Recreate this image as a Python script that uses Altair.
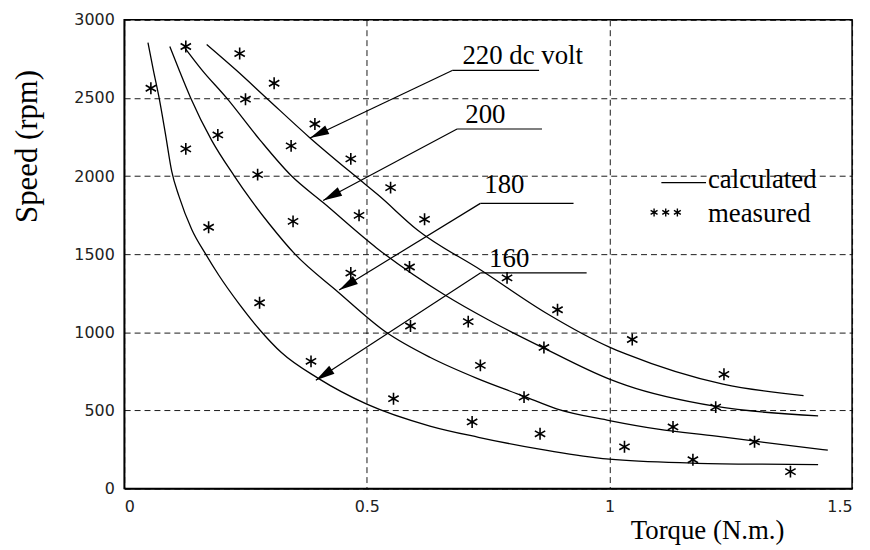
import math
import altair as alt
import pandas as pd

# ---- calculated curves (torque N.m., speed rpm) ----
volts = ["160", "180", "200", "220"]
t160 = [0.049, 0.060, 0.072, 0.085, 0.098, 0.113, 0.139, 0.168, 0.195, 0.236, 0.281, 0.324, 0.40,
        0.50, 0.63, 0.73, 0.85, 0.97, 1.0, 1.17, 1.3, 1.43]
n160 = [2854, 2680, 2500, 2270, 2030, 1870, 1660, 1500, 1365, 1185, 1010, 870, 705,
        540, 400, 328, 255, 198, 188, 163, 156, 153]
t180 = [0.094, 0.113, 0.137, 0.18, 0.227, 0.262, 0.30, 0.352, 0.44, 0.54, 0.63, 0.727, 0.824, 0.891,
        1.0, 1.1, 1.22, 1.3, 1.45]
n180 = [2829, 2680, 2500, 2230, 2000, 1844, 1690, 1500, 1260, 1000, 840, 705, 590, 510,
        435, 380, 335, 303, 245]
t200 = [0.123, 0.16, 0.211, 0.28, 0.345, 0.41, 0.52, 0.66, 0.75, 0.864, 1.0, 1.035, 1.22, 1.43]
n200 = [2829, 2680, 2500, 2230, 2000, 1830, 1540, 1240, 1080, 900, 700, 660, 525, 465]
t220 = [0.170, 0.23, 0.293, 0.383, 0.48, 0.523, 0.605, 0.734, 0.871, 1.0, 1.035, 1.234, 1.40]
n220 = [2842, 2680, 2500, 2244, 1990, 1880, 1653, 1400, 1120, 905, 860, 668, 595]

# ---- measured points ----
meas_t = [0.055, 0.127, 0.127, 0.174, 0.193, 0.238, 0.25, 0.275, 0.279, 0.309, 0.344, 0.348, 0.385,
          0.393, 0.467, 0.467, 0.484, 0.549, 0.555, 0.588, 0.59, 0.619, 0.709, 0.717, 0.734, 0.789,
          0.824, 0.857, 0.865, 0.893, 1.031, 1.047, 1.131, 1.172, 1.219, 1.236, 1.299, 1.373]
meas_n = [2562, 2829, 2174, 1672, 2263, 2784, 2492, 2009, 1189, 2594, 2193, 1710, 814,
          2333, 2110, 1379, 1748, 1926, 575, 1418, 1040, 1723, 1068, 426, 788, 1348,
          585, 350, 903, 1144, 267, 954, 394, 184, 521, 731, 299, 108]

# ---- annotations (data coordinates) ----
ann_text = ["220 dc volt", "200", "180", "160"]
ann_tx = [0.697, 0.703, 0.742, 0.752]
ann_ty = [2715, 2340, 1894, 1418]
arrow_sx = [0.676, 0.686, 0.734, 0.734]
arrow_sy = [2676, 2301, 1825, 1380]
arrow_ex = [0.383, 0.410, 0.443, 0.395]
arrow_ey = [2244, 1844, 1271, 693]
leader_end = [0.855, 0.861, 0.926, 0.953]

legend_labels = ["calculated", "measured"]

W, H = 733, 472
XMAX, YMAX = 1.5, 3000

serif = "Liberation Serif"
sans = "DejaVu Sans"

xscale = alt.Scale(domain=[0, XMAX], nice=False, zero=False)
yscale = alt.Scale(domain=[0, YMAX], nice=False, zero=False)

xaxis = alt.Axis(values=[0, 0.5, 1, 1.5], labelExpr="'' + datum.value", title="Torque (N.m.)",
                 titleX=587, titleY=50, titleAlign="center", titleBaseline="alphabetic",
                 titleFontSize=27, titleFontWeight="normal")
yaxis = alt.Axis(values=[0, 500, 1000, 1500, 2000, 2500, 3000], labelExpr="'' + datum.value",
                 title="Speed (rpm)", titleX=-97, titleY=127, titleAngle=270,
                 titleAlign="center", titleBaseline="middle",
                 titleFontSize=31, titleFontWeight="normal")


def X(f="x"):
    return alt.X(f, type="quantitative", scale=xscale, axis=xaxis)


def Y(f="y"):
    return alt.Y(f, type="quantitative", scale=yscale, axis=yaxis)


curve_rows = []
for v, ts, ns in zip(volts, [t160, t180, t200, t220], [n160, n180, n200, n220]):
    for i, (t, n) in enumerate(zip(ts, ns)):
        curve_rows.append({"v": v, "x": t, "y": n, "o": i})
curves_df = pd.DataFrame(curve_rows)

meas_df = pd.DataFrame({"x": meas_t, "y": meas_n})

arrow_df = pd.DataFrame({"x": arrow_sx, "y": arrow_sy, "x2": arrow_ex, "y2": arrow_ey})
leader_df = pd.DataFrame({"x": arrow_sx, "y": arrow_sy, "x2": leader_end, "y2": arrow_sy})

angs = []
for sx, sy, ex, ey in zip(arrow_sx, arrow_sy, arrow_ex, arrow_ey):
    dxp = (ex - sx) * W / XMAX
    dyp = -(ey - sy) * H / YMAX
    angs.append(math.degrees(math.atan2(dyp, dxp)) % 360)
head_df = pd.DataFrame({"x": arrow_ex, "y": arrow_ey, "ang": angs})

ann_df = pd.DataFrame({"x": ann_tx, "y": ann_ty, "t": ann_text})

# legend (placed in data space, upper right)
leg_line_df = pd.DataFrame({"x": [1.107], "y": [1958], "x2": [1.199], "y2": [1958]})
leg_star_df = pd.DataFrame({"x": [1.092, 1.116, 1.140], "y": [1767, 1767, 1767]})
leg_text_df = pd.DataFrame({"x": [1.203, 1.203], "y": [1926, 1704], "t": legend_labels})

star_path = "M0,-1L0,1M-0.87,-0.5L0.87,0.5M-0.87,0.5L0.87,-0.5"
head_path = "M0,0L-2.4,-0.6L-2.4,0.6Z"

curves = alt.Chart(curves_df).mark_line(color="black", strokeWidth=1.3, interpolate="monotone").encode(
    x=X(), y=Y(), detail="v:N", order="o:Q")

measured = alt.Chart(meas_df).mark_point(shape=star_path, size=144, filled=False,
                                         color="black", strokeWidth=1.6, opacity=1).encode(x=X(), y=Y())

arrows = alt.Chart(arrow_df).mark_rule(color="black", strokeWidth=1.2).encode(
    x=X(), y=Y(), x2="x2", y2="y2")
leaders = alt.Chart(leader_df).mark_rule(color="black", strokeWidth=1.2).encode(
    x=X(), y=Y(), x2="x2", y2="y2")
heads = alt.Chart(head_df).mark_point(shape=head_path, size=256, filled=True, color="black",
                                      opacity=1).encode(
    x=X(), y=Y(), angle=alt.Angle("ang:Q", scale=None))

labels = alt.Chart(ann_df).mark_text(font=serif, fontSize=27, align="left", baseline="alphabetic",
                                     color="black").encode(x=X(), y=Y(), text="t:N")

leg_line = alt.Chart(leg_line_df).mark_rule(color="black", strokeWidth=1.2).encode(
    x=X(), y=Y(), x2="x2", y2="y2")
leg_star = alt.Chart(leg_star_df).mark_point(shape=star_path, size=64, filled=False, color="black",
                                             strokeWidth=1.4, opacity=1).encode(x=X(), y=Y())
leg_text = alt.Chart(leg_text_df).mark_text(font=serif, fontSize=27, align="left",
                                            baseline="alphabetic", color="black").encode(
    x=X(), y=Y(), text="t:N")

chart = alt.layer(curves, measured, arrows, leaders, heads, labels, leg_line, leg_star, leg_text).properties(
    width=W, height=H,
    autosize=alt.AutoSizeParams(type="none"),
    padding={"left": 117, "top": 10, "right": 10, "bottom": 55},
    background="white",
).configure_view(
    stroke="black", strokeWidth=1.5
).configure_axis(
    grid=True, gridDash=[6, 4], gridColor="black", gridWidth=1, gridOpacity=0.9,
    domainColor="black", domainWidth=1.5, ticks=False,
    labelFont=sans, labelFontSize=16, labelColor="#222", labelPadding=10,
    titleFont=serif, titleFontSize=26, titleFontWeight="normal", titleColor="black",
)

chart.save("out.html", embed_options={"renderer": "svg", "actions": False})
